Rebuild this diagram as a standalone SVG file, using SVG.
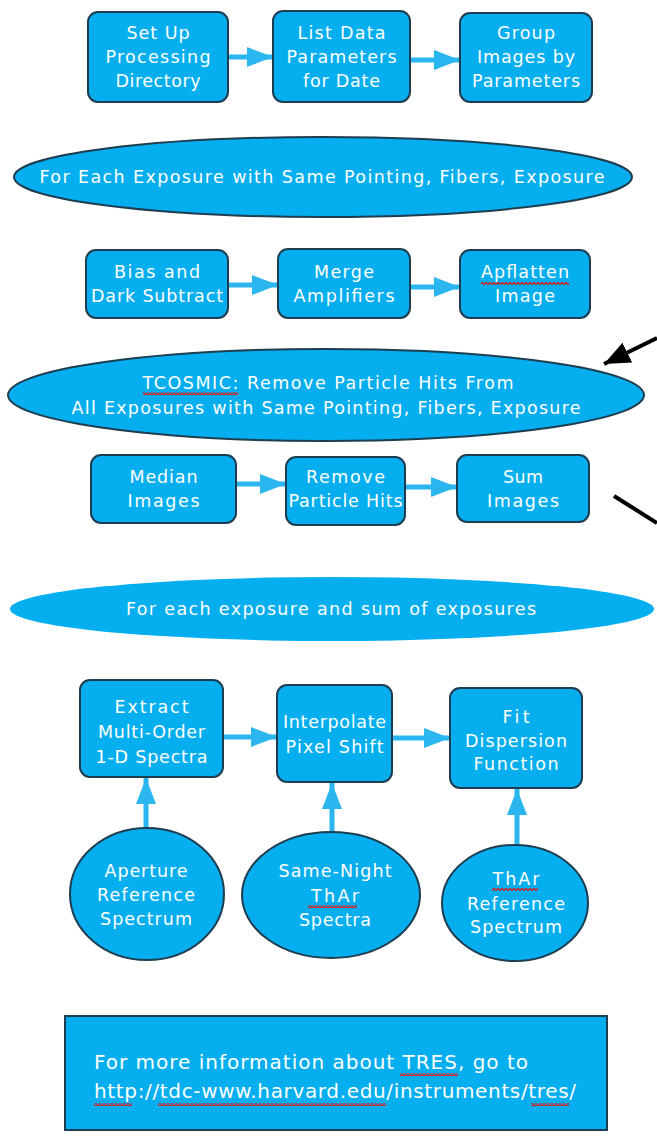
<svg xmlns="http://www.w3.org/2000/svg" width="657" height="1144" viewBox="0 0 657 1144">
<style>
.box{fill:#05aeef;stroke:#1d3d50;stroke-width:2}
.ell{fill:#05aeef;stroke:#1d3d50;stroke-width:2}
.t{font-family:"DejaVu Sans",Verdana,sans-serif;font-size:17.5px;fill:#ffffff;text-anchor:middle}
.tl{font-family:"DejaVu Sans",Verdana,sans-serif;font-size:20px;fill:#ffffff}
.ar{stroke:#2bb6f0;stroke-width:5;fill:none;marker-end:url(#ah)}
.sq{fill:url(#sq)}
</style>
<defs>
<marker id="ah" markerUnits="userSpaceOnUse" markerWidth="28" markerHeight="22" refX="26" refY="10" orient="auto"><path d="M0,0 L26,10 L0,20 z" fill="#2bb6f0"/></marker>
<marker id="bh" markerUnits="userSpaceOnUse" markerWidth="30" markerHeight="24" refX="26" refY="11" orient="auto"><path d="M0,0 L26,11 L0,22 z" fill="#000"/></marker>
<pattern id="sq" width="4" height="3" patternUnits="userSpaceOnUse"><path d="M0,2.5 L2,0.5 L4,2.5" stroke="#e01818" stroke-width="1.4" fill="none"/></pattern>
</defs>

<g id="connectors">
<line class="ar" x1="228" y1="57" x2="273" y2="57"/>
<line class="ar" x1="410" y1="60" x2="460" y2="60"/>
<line class="ar" x1="228" y1="285" x2="278" y2="285"/>
<line class="ar" x1="410" y1="287" x2="460" y2="287"/>
<line class="ar" x1="236" y1="484" x2="286" y2="484"/>
<line class="ar" x1="405" y1="487" x2="457" y2="487"/>
<line class="ar" x1="223" y1="737" x2="277" y2="737"/>
<line class="ar" x1="392" y1="738" x2="450" y2="738"/>
<line class="ar" x1="146" y1="829" x2="146" y2="778"/>
<line class="ar" x1="332" y1="833" x2="332" y2="783"/>
<line class="ar" x1="517" y1="846" x2="517" y2="789"/>
<line x1="657" y1="338" x2="604" y2="364" stroke="#000" stroke-width="4" marker-end="url(#bh)"/>
<line x1="614" y1="496" x2="657" y2="523" stroke="#000" stroke-width="4"/>
</g>

<g id="n1"><rect class="box" x="88" y="12" width="140" height="90" rx="10"/>
<text class="t" x="158" y="39" textLength="63">Set Up</text>
<text class="t" x="158" y="63" textLength="105">Processing</text>
<text class="t" x="158" y="87" textLength="85">Directory</text></g>
<g id="n2"><rect class="box" x="273" y="11" width="137" height="91" rx="10"/>
<text class="t" x="341.5" y="39" textLength="88">List Data</text>
<text class="t" x="341.5" y="63" textLength="110">Parameters</text>
<text class="t" x="341.5" y="87" textLength="77">for Date</text></g>
<g id="n3"><rect class="box" x="460" y="13" width="132" height="89" rx="10"/>
<text class="t" x="526" y="39" textLength="58">Group</text>
<text class="t" x="526" y="63" textLength="98">Images by</text>
<text class="t" x="526" y="87" textLength="108">Parameters</text></g>

<g id="e1"><ellipse class="ell" cx="323" cy="177" rx="309" ry="40"/>
<text class="t" x="322" y="183" textLength="565">For Each Exposure with Same Pointing, Fibers, Exposure</text></g>

<g id="n4"><rect class="box" x="86" y="250" width="142" height="68" rx="10"/>
<text class="t" x="157" y="278" textLength="86">Bias and</text>
<text class="t" x="157" y="302" textLength="132">Dark Subtract</text></g>
<g id="n5"><rect class="box" x="278" y="249" width="132" height="69" rx="10"/>
<text class="t" x="344" y="278" textLength="60">Merge</text>
<text class="t" x="344" y="302" textLength="101">Amplifiers</text></g>
<g id="n6"><rect class="box" x="460" y="250" width="130" height="68" rx="10"/>
<text class="t" x="525" y="278" textLength="88">Apflatten</text>
<text class="t" x="525" y="302" textLength="60">Image</text>
<rect class="sq" x="481" y="282" width="88" height="3"/></g>

<g id="e2"><ellipse class="ell" cx="326" cy="395" rx="318" ry="46"/>
<text class="t" x="328" y="389" textLength="371">TCOSMIC: Remove Particle Hits From</text>
<text class="t" x="326" y="414" textLength="509">All Exposures with Same Pointing, Fibers, Exposure</text>
<rect class="sq" x="143" y="392" width="95" height="3"/></g>

<g id="n7"><rect class="box" x="91" y="455" width="145" height="68" rx="10"/>
<text class="t" x="163.5" y="483" textLength="68">Median</text>
<text class="t" x="163.5" y="507" textLength="72">Images</text></g>
<g id="n8"><rect class="box" x="286" y="457" width="119" height="68" rx="10"/>
<text class="t" x="345.5" y="483" textLength="79">Remove</text>
<text class="t" x="345.5" y="507" textLength="114">Particle Hits</text></g>
<g id="n9"><rect class="box" x="457" y="455" width="132" height="67" rx="10"/>
<text class="t" x="523" y="483" textLength="40">Sum</text>
<text class="t" x="523" y="507" textLength="72">Images</text></g>

<g id="e3"><ellipse cx="332" cy="609" rx="322" ry="32" fill="#05aeef"/>
<text class="t" x="331" y="615" textLength="410">For each exposure and sum of exposures</text></g>

<g id="n10"><rect class="box" x="80" y="680" width="143" height="97" rx="10"/>
<text class="t" x="151.5" y="713" textLength="74">Extract</text>
<text class="t" x="151.5" y="738" textLength="107">Multi-Order</text>
<text class="t" x="151.5" y="763" textLength="112">1-D Spectra</text></g>
<g id="n11"><rect class="box" x="277" y="685" width="115" height="97" rx="10"/>
<text class="t" x="334.5" y="728" textLength="103">Interpolate</text>
<text class="t" x="334.5" y="753" textLength="98">Pixel Shift</text></g>
<g id="n12"><rect class="box" x="450" y="688" width="132" height="100" rx="10"/>
<text class="t" x="516" y="723" textLength="27">Fit</text>
<text class="t" x="516" y="747" textLength="102">Dispersion</text>
<text class="t" x="516" y="770" textLength="85">Function</text></g>

<g id="c1"><ellipse class="ell" cx="147" cy="894" rx="77" ry="66"/>
<text class="t" x="146" y="877" textLength="83">Aperture</text>
<text class="t" x="146" y="901" textLength="98">Reference</text>
<text class="t" x="146" y="925" textLength="92">Spectrum</text></g>
<g id="c2"><ellipse class="ell" cx="331" cy="895" rx="89" ry="63"/>
<text class="t" x="335" y="877" textLength="113">Same-Night</text>
<text class="t" x="335" y="902" textLength="48">ThAr</text>
<text class="t" x="335" y="926" textLength="72">Spectra</text>
<rect class="sq" x="308" y="905" width="49" height="3"/></g>
<g id="c3"><ellipse class="ell" cx="515" cy="903" rx="73" ry="58"/>
<text class="t" x="516" y="885" textLength="47">ThAr</text>
<text class="t" x="516" y="910" textLength="98">Reference</text>
<text class="t" x="516" y="933" textLength="92">Spectrum</text>
<rect class="sq" x="492" y="888" width="46" height="3"/></g>

<g id="info"><rect x="65" y="1016" width="542" height="114" fill="#05aeef" stroke="#1d3d50" stroke-width="2"/>
<text class="tl" x="94" y="1069" textLength="434">For more information about TRES, go to</text>
<text class="tl" x="94" y="1098" textLength="482">http://tdc-www.harvard.edu/instruments/tres/</text>
<rect class="sq" x="400" y="1073" width="58" height="3"/>
<rect class="sq" x="94" y="1103" width="38" height="3"/>
<rect class="sq" x="158" y="1103" width="228" height="3"/>
<rect class="sq" x="531" y="1103" width="38" height="3"/></g>
</svg>
